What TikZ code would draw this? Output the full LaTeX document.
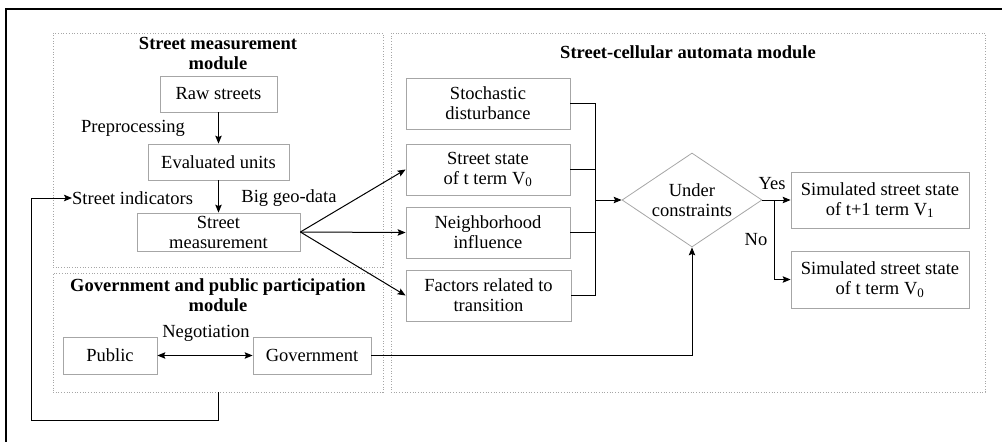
\documentclass[tikz,border=0pt]{standalone}
\usepackage{fontspec}
\setmainfont{Liberation Serif}
\usetikzlibrary{shapes.geometric,arrows.meta}
\tikzset{
  box/.style={draw=gray!70, line width=0.8pt, align=center, inner sep=0pt},
  modbox/.style={draw=gray!70, dotted, line width=0.7pt, inner sep=0pt},
  dia/.style={draw=gray!70, line width=0.8pt, shape=diamond, inner sep=0pt, minimum width=140pt, minimum height=94pt},
  arr/.style={-{Stealth[length=8pt,width=6.5pt,inset=1.5pt]}, line width=1pt},
  darr/.style={{Stealth[length=8pt,width=6.5pt,inset=1.5pt]}-{Stealth[length=8pt,width=6.5pt,inset=1.5pt]}, line width=1pt},
  ln/.style={line width=1pt},
  lbl/.style={inner sep=0pt, align=center},
  ttl/.style={inner sep=0pt, align=center, font=\fontsize{18.5}{20}\selectfont\bfseries},
}
\begin{document}
\begin{tikzpicture}[x=1pt,y=-1pt,font=\fontsize{18.5}{20}\selectfont]
\useasboundingbox (0,0) rectangle (1002,442);
\draw[line width=2pt] (1002,9) -- (6,9) -- (6,442);
% modules
\node[modbox, minimum width=330pt, minimum height=234pt] (smmod) at (218,150) {};
\node[modbox, minimum width=330pt, minimum height=119pt] (gmod) at (218,332.5) {};
\node[modbox, minimum width=594pt, minimum height=359pt] (camod) at (688,212.5) {};
\node[ttl] (t1) at (218,53.5) {Street measurement\\module};
\node[ttl] (t2) at (218,295.5) {Government and public participation\\module};
\node[ttl] (t3) at (688,52) {Street-cellular automata module};
% left module
\node[box, minimum width=117pt, minimum height=36pt] (raw) at (218.5,94) {Raw streets};
\node[box, minimum width=141pt, minimum height=36pt] (eval) at (218.5,162) {Evaluated units};
\node[box, minimum width=163pt, minimum height=38pt] (sm) at (218.5,232) {Street\\measurement};
\node[lbl] (pre) at (133,128) {Preprocessing};
\node[lbl, anchor=west] (si) at (72,198) {Street indicators};
\node[lbl] (bg) at (289,198) {Big geo-data};
% gov module
\node[box, minimum width=94pt, minimum height=37pt] (pub) at (110,355.5) {Public};
\node[box, minimum width=118pt, minimum height=37pt] (gov) at (312,355.5) {Government};
\node[lbl] (neg) at (206,333) {Negotiation};
% CA module
\node[box, minimum width=164pt, minimum height=51pt] (stoch) at (488,103.5) {Stochastic\\disturbance};
\node[box, minimum width=164pt, minimum height=51pt] (state) at (488,169.5) {Street state\\of t term V\textsubscript{0}};
\node[box, minimum width=164pt, minimum height=51pt] (neigh) at (488,232.5) {Neighborhood\\influence};
\node[box, minimum width=165pt, minimum height=51pt] (fact) at (488.5,295.5) {Factors related to\\transition};
\node[dia] (dia) at (692,200) {};
\node[lbl] (diat) at (dia.center) {Under\\constraints};
\node[box, minimum width=178pt, minimum height=56pt] (sim1) at (880,200) {Simulated street state\\of t+1 term V\textsubscript{1}};
\node[box, minimum width=178pt, minimum height=57pt] (sim2) at (880,279.5) {Simulated street state\\of t term V\textsubscript{0}};
\node[lbl] (yes) at (772,184) {Yes};
\node[lbl] (no) at (756,240) {No};
\coordinate (jn) at (595,200);
\coordinate (br) at (774,200);
\coordinate (lp) at (31,420);
% connectors
\draw[arr] (raw) -- (eval);
\draw[arr] (eval) -- (sm);
\draw[arr] (sm.east) -- (state.west);
\draw[arr] (sm.east) -- (neigh.west);
\draw[arr] (sm.east) -- (fact.west);
\draw[darr] (pub) -- (gov);
\draw[ln] (stoch.east) -- (stoch.east -| jn) -- (fact.east -| jn) -- (fact.east);
\draw[ln] (state.east) -- (state.east -| jn);
\draw[ln] (neigh.east) -- (neigh.east -| jn);
\draw[arr] (jn) -- (dia.west);
\draw[arr] (gov.east) -| (dia.south);
\draw[arr] (dia.east) -- (sim1.west);
\draw[arr] (br) |- (sim2.west);
\draw[arr] (gmod.south) |- (lp) |- (si.west);
\end{tikzpicture}
\end{document}
